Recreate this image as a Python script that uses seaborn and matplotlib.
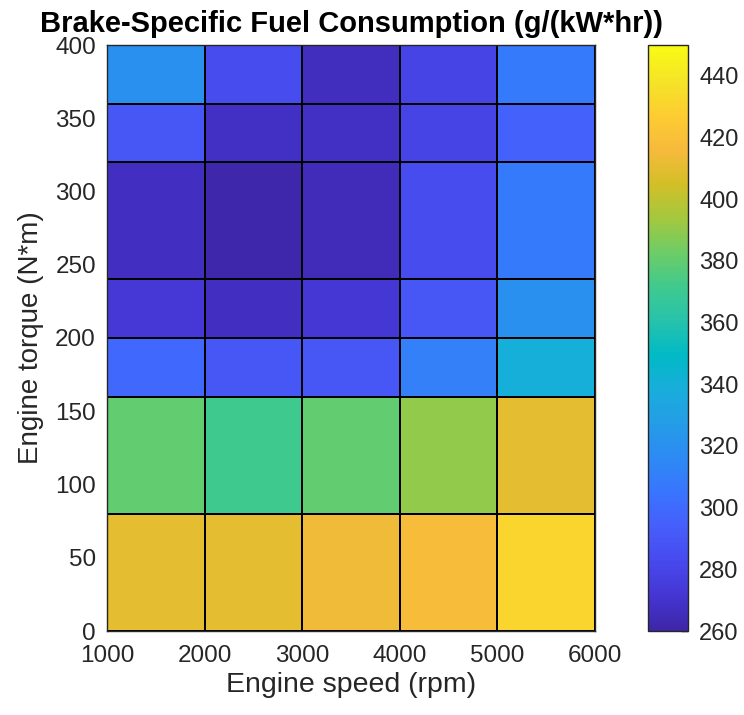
import numpy as np
import matplotlib
matplotlib.use("Agg")
import matplotlib.pyplot as plt
from matplotlib.colors import LinearSegmentedColormap
import seaborn as sns

# Cell boundaries of the lookup table
speed_edges = [1000, 2000, 3000, 4000, 5000, 6000]          # rpm
torque_edges = [0, 80, 160, 200, 240, 320, 360, 400]        # N*m

# BSFC values (g/(kW*hr)), one list per torque band, bottom to top
bsfc_0_80 = [410, 410, 414, 418, 431]
bsfc_80_160 = [380, 371, 380, 390, 410]
bsfc_160_200 = [299, 290, 290, 311, 340]
bsfc_200_240 = [273, 267, 272, 290, 320]
bsfc_240_320 = [267, 261, 265, 284, 308]
bsfc_320_360 = [290, 268, 268, 280, 295]
bsfc_360_400 = [320, 284, 266, 280, 308]

x_ticks = [1000, 2000, 3000, 4000, 5000, 6000]
y_ticks = [0, 50, 100, 150, 200, 250, 300, 350, 400]
cbar_ticks = [260, 280, 300, 320, 340, 360, 380, 400, 420, 440]
clim = (260, 450)

title = "Brake-Specific Fuel Consumption (g/(kW*hr))"
xlabel = "Engine speed (rpm)"
ylabel = "Engine torque (N*m)"

# Parula-style colormap anchors
parula_anchors = [
    (0.2422, 0.1504, 0.6603), (0.2691, 0.2094, 0.8249), (0.2809, 0.2875, 0.9305),
    (0.2754, 0.3693, 0.9840), (0.2250, 0.4559, 0.9985), (0.1773, 0.5401, 0.9602),
    (0.1446, 0.6135, 0.9050), (0.0964, 0.6789, 0.8609), (0.0018, 0.7275, 0.7752),
    (0.1532, 0.7614, 0.6741), (0.2491, 0.7922, 0.5546), (0.4322, 0.8028, 0.4013),
    (0.6433, 0.7839, 0.2423), (0.8281, 0.7481, 0.1536), (0.9689, 0.7292, 0.2373),
    (0.9923, 0.8034, 0.1939), (0.9601, 0.8963, 0.1507), (0.9769, 0.9839, 0.0805),
]
parula = LinearSegmentedColormap.from_list("parula", parula_anchors, N=256)

sns.set_theme(style="white")
plt.rcParams["font.family"] = ["Liberation Sans", "DejaVu Sans"]

text_color = "#262626"

grid = np.array([bsfc_0_80, bsfc_80_160, bsfc_160_200, bsfc_200_240,
                 bsfc_240_320, bsfc_320_360, bsfc_360_400], dtype=float)

fig = plt.figure(figsize=(7.44, 7.15), dpi=100)
W, H = 744, 715
left, right, top, bottom = 107, 595, 45, 631
ax = fig.add_axes([left / W, 1 - bottom / H, (right - left) / W, (bottom - top) / H])
cax = fig.add_axes([648 / W, 1 - bottom / H, 40 / W, (bottom - top) / H])

mesh = ax.pcolormesh(speed_edges, torque_edges, grid, cmap=parula,
                     vmin=clim[0], vmax=clim[1], edgecolors="black", linewidth=1.3)

ax.set_xlim(speed_edges[0], speed_edges[-1])
ax.set_ylim(torque_edges[0], torque_edges[-1])
ax.set_xticks(x_ticks)
ax.set_yticks(y_ticks)
ax.tick_params(axis="both", direction="in", length=5, width=1,
               labelsize=17.5, colors=text_color, labelcolor=text_color)
ax.tick_params(axis="x", pad=10)
ax.tick_params(axis="y", pad=8)
for s in ax.spines.values():
    s.set_color(text_color)
    s.set_linewidth(1.0)

ax.set_xlabel(xlabel, fontsize=20.5, color=text_color, labelpad=4)
ax.set_ylabel(ylabel, fontsize=20, color=text_color, labelpad=8)
ax.set_title(title, fontsize=21, fontweight="bold", color="black", pad=9)

cb = fig.colorbar(mesh, cax=cax)
cb.set_ticks(cbar_ticks)
cb.outline.set_edgecolor(text_color)
cb.outline.set_linewidth(1.0)
cax.tick_params(direction="in", length=5, width=1, pad=8, labelsize=17,
                colors=text_color, labelcolor=text_color, right=True, left=False)

fig.savefig("out.png", dpi=100)
